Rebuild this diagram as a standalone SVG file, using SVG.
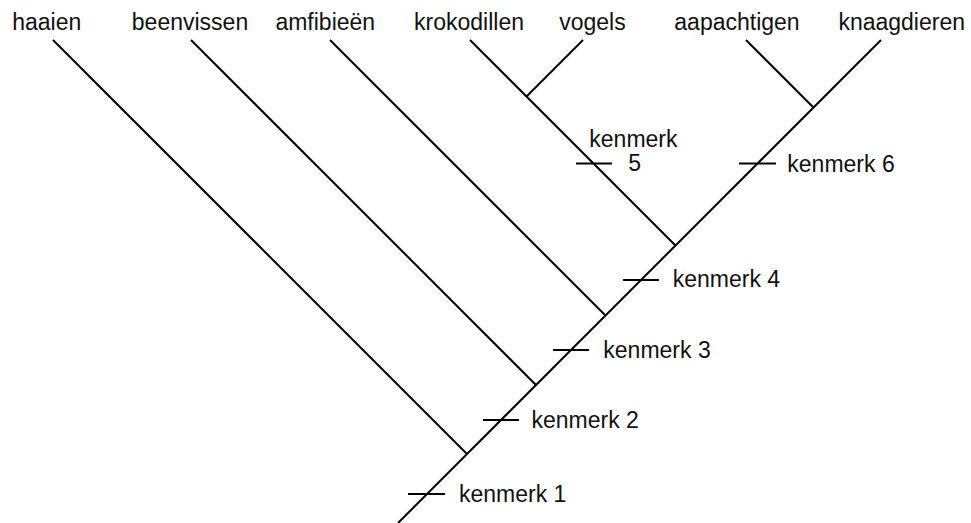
<svg xmlns="http://www.w3.org/2000/svg" width="971" height="523" viewBox="0 0 971 523">
<style>
  .ln { stroke: #000; stroke-width: 2; fill: none; stroke-linecap: butt; }
  .t { font-family: "Liberation Sans", Arial, sans-serif; font-size: 23px; fill: #111; }
  .c { text-anchor: middle; }
</style>
<rect width="971" height="523" fill="#fff"/>
<g id="connectors">
  <line class="ln" x1="398" y1="523" x2="881" y2="40"/>
  <line class="ln" x1="53" y1="40" x2="467" y2="454"/>
  <line class="ln" x1="191" y1="40" x2="536" y2="385"/>
  <line class="ln" x1="330" y1="40" x2="605.5" y2="315.5"/>
  <line class="ln" x1="470" y1="40" x2="675.5" y2="245.5"/>
  <line class="ln" x1="583" y1="40" x2="526.5" y2="96.5"/>
  <line class="ln" x1="746" y1="40" x2="813.5" y2="107.5"/>
  <!-- ticks -->
  <line class="ln" x1="408" y1="494" x2="445" y2="494"/>
  <line class="ln" x1="483" y1="420" x2="519" y2="420"/>
  <line class="ln" x1="553" y1="350" x2="589" y2="350"/>
  <line class="ln" x1="623" y1="280" x2="659" y2="280"/>
  <line class="ln" x1="576" y1="163.5" x2="612" y2="163.5"/>
  <line class="ln" x1="739" y1="163.5" x2="776" y2="163.5"/>
</g>
<g id="haaien"><text class="t c" x="46.7" y="30">haaien</text></g>
<g id="beenvissen"><text class="t c" x="190" y="30">beenvissen</text></g>
<g id="amfibieen"><text class="t c" x="325.3" y="30">amfibieën</text></g>
<g id="krokodillen"><text class="t c" x="469" y="30">krokodillen</text></g>
<g id="vogels"><text class="t c" x="592.5" y="30">vogels</text></g>
<g id="aapachtigen"><text class="t c" x="737" y="30">aapachtigen</text></g>
<g id="knaagdieren"><text class="t c" x="901.7" y="30">knaagdieren</text></g>
<g id="kenmerk1"><text class="t" x="459" y="501.5">kenmerk 1</text></g>
<g id="kenmerk2"><text class="t" x="531.5" y="428">kenmerk 2</text></g>
<g id="kenmerk3"><text class="t" x="603.3" y="358.3">kenmerk 3</text></g>
<g id="kenmerk4"><text class="t" x="672.7" y="287">kenmerk 4</text></g>
<g id="kenmerk5"><text class="t" x="589.3" y="146.7">kenmerk</text><text class="t" x="628.3" y="171">5</text></g>
<g id="kenmerk6"><text class="t" x="787.3" y="171.5">kenmerk 6</text></g>
</svg>
